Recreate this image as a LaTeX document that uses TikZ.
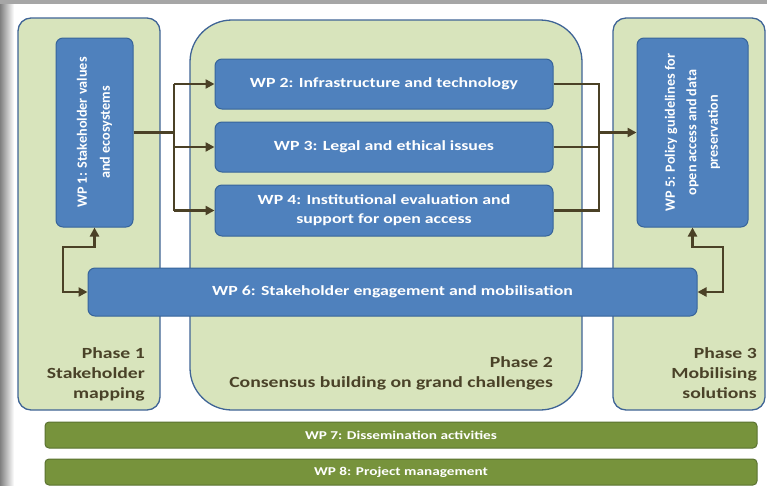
\documentclass[tikz,border=0pt]{standalone}
\usepackage{fontspec}
\setmainfont{Carlito}
\newfontfamily\widefont[FakeStretch=1.27]{Carlito}
\usetikzlibrary{arrows.meta}
\definecolor{phfill}{HTML}{D8E4BC}
\definecolor{phdraw}{HTML}{3F6496}
\definecolor{wpfill}{HTML}{4F81BD}
\definecolor{wpdraw}{HTML}{37649A}
\definecolor{gnfill}{HTML}{77933C}
\definecolor{gndraw}{HTML}{5A7230}
\definecolor{conn}{HTML}{4B4126}
\definecolor{phtext}{HTML}{4A4228}
\tikzset{
  phase/.style={draw=phdraw, fill=phfill, line width=1.3pt, rounded corners=13pt, inner sep=0pt},
  wp/.style={draw=wpdraw, fill=wpfill, line width=1pt, rounded corners=7pt, inner sep=0pt,
    text=white, font=\widefont\bfseries\fontsize{14}{19}\selectfont, align=center},
  wprot/.style={rotate=90, text=white, inner sep=0pt, align=center},
  gbar/.style={draw=gndraw, fill=gnfill, line width=1pt, rounded corners=4pt, inner sep=0pt,
    text=white, font=\widefont\bfseries\fontsize{12}{14}\selectfont, align=center},
  phlabel/.style={text=phtext, font=\widefont\bfseries\fontsize{15.5}{20}\selectfont, inner sep=0pt, align=right, anchor=north east},
  lnk/.style={draw=conn, line width=2.6pt},
  arr/.style={lnk, -{Triangle[length=9pt,width=9pt]}},
  dbl/.style={lnk, {Triangle[length=9pt,width=9pt]}-{Triangle[length=9pt,width=9pt]}}
}
\begin{document}
\begin{tikzpicture}[x=1pt,y=-1pt]
\useasboundingbox (0,0) rectangle (767,485);
\fill[white] (0,0) rectangle (767,485);
\shade[left color=black!50, right color=white] (0,0) rectangle (14,485);
\fill[black!35] (0,0) rectangle (767,4);
% phases
\node[phase, minimum width=142pt, minimum height=392pt] (ph1) at (89,214) {};
\node[phase, rounded corners=42pt, minimum width=392pt, minimum height=390pt] (ph2) at (386,215) {};
\node[phase, minimum width=152pt, minimum height=392pt] (ph3) at (689,214) {};
% phase labels
\node[phlabel] (l1) at (145,347) {Phase 1\\Stakeholder\\mapping};
\node[phlabel] (l2) at (553,356) {Phase 2\\Consensus building on grand challenges};
\node[phlabel] (l3) at (757,347) {Phase 3\\Mobilising\\solutions};
% work packages
\node[wp, minimum width=77pt, minimum height=189pt] (wp1) at (94.5,132.5) {};
\node[wprot, font=\bfseries\fontsize{14.2}{23}\selectfont] (t1) at (wp1.center) {WP 1: Stakeholder values\\and ecosystems};
\node[wp, minimum width=111pt, minimum height=189pt] (wp5) at (692.5,132.5) {};
\node[wprot, font=\bfseries\fontsize{14.2}{21.5}\selectfont] (t5) at (wp5.center) {WP 5: Policy guidelines for\\open access and data\\preservation};
\node[wp, minimum width=338pt, minimum height=50pt] (wp2) at (384,84) {WP 2: Infrastructure and technology};
\node[wp, minimum width=338pt, minimum height=50pt] (wp3) at (384,147) {WP 3: Legal and ethical issues};
\node[wp, minimum width=338pt, minimum height=51pt] (wp4) at (384,210.5) {WP 4: Institutional evaluation and\\support for open access};
\node[wp, minimum width=609pt, minimum height=48pt] (wp6) at (392.5,292) {WP 6: Stakeholder engagement and mobilisation};
\node[gbar, minimum width=712pt, minimum height=26pt] (wp7) at (401,435) {WP 7: Dissemination activities};
\node[gbar, minimum width=712pt, minimum height=26pt] (wp8) at (401,472) {WP 8: Project management};
% connectors
\coordinate (j1) at (174,132);
\coordinate (j2) at (599,132);
\coordinate (a1) at (63,247);
\coordinate (a3) at (723,247);
\draw[lnk] (wp1.east) -- (wp1.east -| j1);
\draw[lnk] (j1 |- wp2.west) -- (j1 |- wp4.west);
\draw[arr] (j1 |- wp2.west) -- (wp2.west);
\draw[arr] (j1 |- wp3.west) -- (wp3.west);
\draw[arr] (j1 |- wp4.west) -- (wp4.west);
\draw[lnk] (wp2.east) -- (wp2.east -| j2) -- (wp4.east -| j2) -- (wp4.east);
\draw[lnk] (wp3.east) -- (wp3.east -| j2);
\draw[arr] (j2 |- wp5.west) -- (wp5.west);
\draw[dbl] (wp6.west) -| (a1) -- (a1 -| wp1.south) -- (wp1.south);
\draw[dbl] (wp5.south) -- (wp5.south |- a3) -- (a3) |- (wp6.east);
\end{tikzpicture}
\end{document}
